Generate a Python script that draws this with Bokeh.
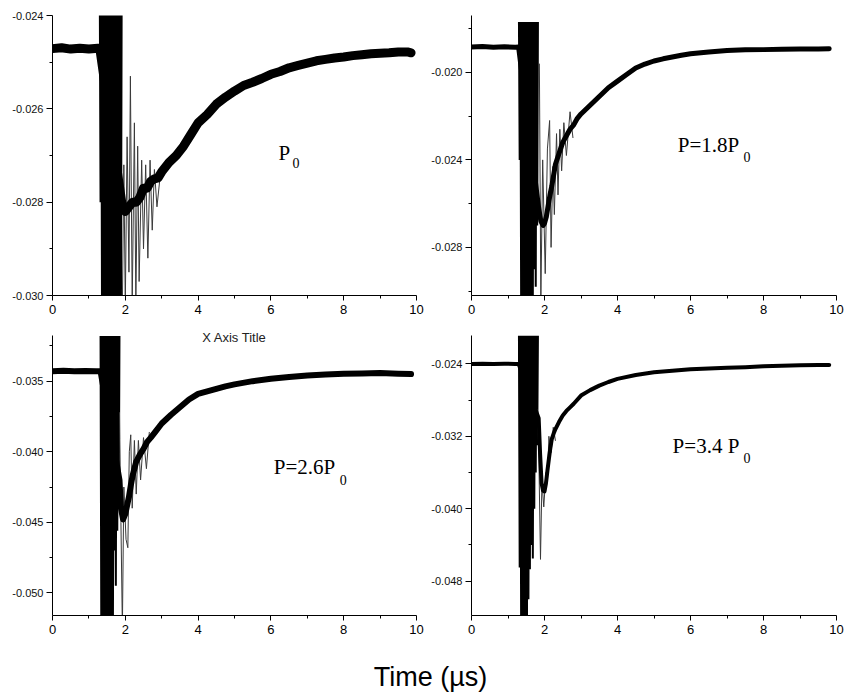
from bokeh.plotting import figure
from bokeh.layouts import column, row
from bokeh.models import FixedTicker, PrintfTickFormatter, Label, Range1d
from bokeh.core.properties import value
from bokeh.embed import file_html
from bokeh.resources import INLINE

# ---------------- data ----------------
# Panel 1 : P0
p1_t = [0.0, 0.25, 0.5, 0.75, 1.0, 1.25, 1.30,
        1.92, 2.0, 2.1, 2.2, 2.3, 2.4, 2.5, 2.6, 2.7, 2.8, 2.9, 3.0,
        3.2, 3.4, 3.6, 3.8, 4.0, 4.25, 4.5, 4.75, 5.0, 5.25, 5.5, 5.75, 6.0,
        6.25, 6.5, 6.75, 7.0, 7.25, 7.5, 7.75, 8.0, 8.25, 8.5, 8.75, 9.0,
        9.25, 9.5, 9.75, 9.85]
p1_v = [-0.02471, -0.02469, -0.02472, -0.02470, -0.02472, -0.02470, -0.02471,
        -0.02810, -0.02820, -0.02810, -0.02800, -0.02800, -0.02790, -0.02770, -0.02770, -0.02755, -0.02750, -0.02748, -0.02735,
        -0.02715, -0.02700, -0.02680, -0.02655, -0.02630, -0.02612, -0.02590, -0.02575, -0.02562, -0.02550, -0.02543, -0.02535, -0.02526,
        -0.02520, -0.02512, -0.02507, -0.02502, -0.02497, -0.02494, -0.02491, -0.02489, -0.02486, -0.02484, -0.02482, -0.02481,
        -0.02480, -0.02478, -0.02478, -0.02480]
p1_burst_t = [1.30, 1.32, 1.34, 1.36, 1.38, 1.40, 1.42, 1.44, 1.46, 1.48, 1.50, 1.52, 1.54, 1.56, 1.58, 1.60,
              1.62, 1.64, 1.66, 1.68, 1.70, 1.72, 1.74, 1.76, 1.78, 1.80, 1.82, 1.84, 1.86, 1.88, 1.90]
p1_burst_v = [-0.0237, -0.0280, -0.0237, -0.0303, -0.0237, -0.0303, -0.0237, -0.0303, -0.0237, -0.0303, -0.0237, -0.0303,
              -0.0237, -0.0303, -0.0237, -0.0303, -0.0237, -0.0303, -0.0237, -0.0303, -0.0237, -0.0303, -0.0237, -0.0303,
              -0.0237, -0.0303, -0.0237, -0.0303, -0.0237, -0.0303, -0.0237]
p1_spike_t = [1.92, 1.96, 2.00, 2.05, 2.10, 2.14, 2.19, 2.25, 2.29, 2.34, 2.38, 2.45, 2.50, 2.56, 2.62, 2.68, 2.74, 2.80, 2.87, 2.95]
p1_spike_v = [-0.0302, -0.0272, -0.0302, -0.0266, -0.0295, -0.0253, -0.0302, -0.0263, -0.0302, -0.0268, -0.0297,
              -0.0271, -0.0290, -0.0272, -0.0292, -0.0271, -0.0286, -0.0273, -0.0281, -0.0275]

# Panel 2 : P = 1.8 P0
p2_t = [0.0, 0.3, 0.6, 0.9, 1.2, 1.29,
        1.84, 1.90, 1.96, 2.00, 2.05, 2.10, 2.15, 2.20, 2.25, 2.30,
        2.40, 2.50, 2.60, 2.70, 2.80, 2.90, 3.00, 3.25, 3.50, 3.75, 4.00,
        4.25, 4.50, 4.75, 5.00, 5.25, 5.50, 5.75, 6.00, 6.50, 7.00, 7.50, 8.00,
        8.50, 9.00, 9.50, 9.80]
p2_v = [-0.01884, -0.01882, -0.01885, -0.01883, -0.01885, -0.01884,
        -0.02620, -0.02680, -0.02700, -0.02690, -0.02660, -0.02610, -0.02560, -0.02520, -0.02470, -0.02420,
        -0.02370, -0.02320, -0.02290, -0.02260, -0.02240, -0.02210, -0.02190, -0.02150, -0.02110, -0.02070, -0.02040,
        -0.02010, -0.01980, -0.01962, -0.01948, -0.01938, -0.01930, -0.01922, -0.01915, -0.01907, -0.01900, -0.01897, -0.01896,
        -0.01894, -0.01893, -0.01893, -0.01892]
p2_burst_t = [1.30, 1.32, 1.34, 1.36, 1.38, 1.40, 1.42, 1.44, 1.46, 1.48, 1.50, 1.52, 1.54, 1.56,
              1.58, 1.60, 1.62, 1.64, 1.66, 1.68, 1.70, 1.72, 1.74, 1.76, 1.78, 1.80, 1.82]
p2_burst_v = [-0.0177, -0.0240, -0.0177, -0.0305, -0.0177, -0.0305, -0.0177, -0.0305, -0.0177, -0.0305, -0.0177, -0.0305,
              -0.0177, -0.0305, -0.0177, -0.0305, -0.0177, -0.0305, -0.0177, -0.0305, -0.0177, -0.0290, -0.0177, -0.0298,
              -0.0177, -0.0270, -0.0177]
p2_spike_t = [1.86, 1.90, 1.95, 2.02, 2.08, 2.14, 2.18, 2.23, 2.27, 2.33, 2.37, 2.42, 2.47, 2.53, 2.60, 2.70, 2.78]
p2_spike_v = [-0.0196, -0.0305, -0.0240, -0.0292, -0.0235, -0.0222, -0.0280, -0.0243, -0.0265, -0.0228, -0.0256,
              -0.0226, -0.0245, -0.0223, -0.0238, -0.0218, -0.0230]

# Panel 3 : P = 2.6 P0
p3_t = [0.0, 0.3, 0.6, 0.9, 1.2, 1.32,
        1.84, 1.88, 1.94, 2.00, 2.05, 2.10, 2.15, 2.20,
        2.30, 2.40, 2.50, 2.60, 2.70, 2.85, 3.00,
        3.25, 3.50, 3.75, 4.00, 4.25, 4.50, 4.75, 5.00,
        5.50, 6.00, 6.50, 7.00, 7.50, 8.00, 8.50, 9.00, 9.50, 9.85]
p3_v = [-0.03429, -0.03427, -0.03430, -0.03428, -0.03430, -0.03429,
        -0.04200, -0.04400, -0.04480, -0.04440, -0.04380, -0.04320, -0.04240, -0.04170,
        -0.04070, -0.04020, -0.03980, -0.03930, -0.03900, -0.03850, -0.03800,
        -0.03740, -0.03685, -0.03630, -0.03590, -0.03572, -0.03554, -0.03537, -0.03523,
        -0.03500, -0.03483, -0.03470, -0.03460, -0.03453, -0.03448, -0.03445, -0.03443, -0.03447, -0.03450]
p3_burst_t = [1.32, 1.34, 1.36, 1.38, 1.40, 1.42, 1.44, 1.46, 1.48, 1.50, 1.52, 1.54, 1.56, 1.58,
              1.60, 1.62, 1.64, 1.66, 1.68, 1.70, 1.72, 1.74, 1.76, 1.78, 1.80, 1.82, 1.84]
p3_burst_v = [-0.0318, -0.0520, -0.0318, -0.0520, -0.0318, -0.0520, -0.0318, -0.0520, -0.0318, -0.0520, -0.0318, -0.0520,
              -0.0318, -0.0520, -0.0318, -0.0520, -0.0318, -0.0520, -0.0318, -0.0470, -0.0318, -0.0495, -0.0318, -0.0456,
              -0.0318, -0.0440, -0.0318]
p3_spike_t = [1.84, 1.88, 1.92, 1.96, 2.02, 2.07, 2.11, 2.15, 2.19, 2.25, 2.30, 2.36, 2.42, 2.50, 2.58, 2.66]
p3_spike_v = [-0.0372, -0.0450, -0.0525, -0.0425, -0.0462, -0.0468, -0.0400, -0.0388, -0.0440, -0.0392, -0.0430,
              -0.0392, -0.0420, -0.0390, -0.0412, -0.0386]

# Panel 4 : P = 3.4 P0
p4_t = [0.0, 0.3, 0.6, 0.9, 1.2, 1.29,
        1.84, 1.88, 1.92, 1.96, 2.00, 2.04, 2.08, 2.12, 2.16, 2.20,
        2.25, 2.30, 2.40, 2.50, 2.60, 2.70, 2.80,
        3.00, 3.25, 3.50, 3.75, 4.00, 4.50, 5.00, 5.50, 6.00,
        6.50, 7.00, 7.50, 8.00, 8.50, 9.00, 9.50, 9.80]
p4_v = [-0.02400, -0.02398, -0.02401, -0.02399, -0.02400, -0.02400,
        -0.03000, -0.03400, -0.03720, -0.03800, -0.03810, -0.03720, -0.03580, -0.03450, -0.03330, -0.03230,
        -0.03170, -0.03120, -0.03040, -0.02970, -0.02920, -0.02880, -0.02840,
        -0.02750, -0.02690, -0.02640, -0.02600, -0.02566, -0.02522, -0.02493, -0.02475, -0.02460,
        -0.02452, -0.02444, -0.02436, -0.02427, -0.02420, -0.02415, -0.02412, -0.02411]
p4_burst_t = [1.30, 1.32, 1.34, 1.36, 1.38, 1.40, 1.42, 1.44, 1.46, 1.48, 1.50, 1.52, 1.54, 1.56,
              1.58, 1.60, 1.62, 1.64, 1.66, 1.68, 1.70, 1.72, 1.74, 1.76, 1.78, 1.80, 1.82]
p4_burst_v = [-0.0209, -0.0465, -0.0209, -0.0530, -0.0209, -0.0530, -0.0209, -0.0530, -0.0209, -0.0530, -0.0209, -0.0530,
              -0.0209, -0.0500, -0.0209, -0.0467, -0.0209, -0.0440, -0.0209, -0.0455, -0.0209, -0.0400, -0.0209, -0.0360,
              -0.0209, -0.0330, -0.0209]
p4_spike_t = [1.80, 1.84, 1.89, 1.93, 1.98, 2.04, 2.08, 2.12, 2.18, 2.24, 2.30]
p4_spike_v = [-0.0290, -0.0330, -0.0456, -0.0370, -0.0398, -0.0360, -0.0370, -0.0320, -0.0338, -0.0310, -0.0325]

# axes
x_ticks = [0, 2, 4, 6, 8, 10]
x_minor = [1, 3, 5, 7, 9]
p1_yrange = (-0.0300, -0.0240)
p1_yaxis_top = -0.0240
p1_yticks = [-0.030, -0.028, -0.026, -0.024]
p1_yminor = [-0.029, -0.027, -0.025]
p2_yrange = (-0.0302, -0.0174)
p2_yaxis_top = -0.0174
p2_yticks = [-0.028, -0.024, -0.020]
p2_yminor = [-0.030, -0.026, -0.022, -0.018]
# lower row: the frame reaches a few pixels above the axis line so the stray title fits
p3_yrange = (-0.0516, -0.03127)
p3_yaxis_top = -0.0318
p3_yticks = [-0.050, -0.045, -0.040, -0.035]
p3_yminor = [-0.0475, -0.0425, -0.0375, -0.0325]
p4_yrange = (-0.0518, -0.02009)
p4_yaxis_top = -0.0209
p4_yticks = [-0.048, -0.040, -0.032, -0.024]
p4_yminor = [-0.044, -0.036, -0.028]

# annotations (vertical centre of the text): (main text, x, y, subscript, x, y)
p1_note = ("P", 6.21, -0.02694, "0", 6.59, -0.02717)
p2_note = ("P=1.8P", 5.65, -0.02334, "0", 7.45, -0.02387)
p3_note = ("P=2.6P", 6.08, -0.04109, "0", 7.89, -0.04199)
p4_note = ("P=3.4 P", 5.51, -0.03304, "0", 7.45, -0.03439)

SANS = "Liberation Sans"
SERIF = "Liberation Serif"


def panel(width, height, borders, yr, ytop, yticks, yminor, t, v, lw, bt, bv, st, sv, note):
    bl, br, btop, bb = borders
    p = figure(width=width, height=height, x_range=Range1d(0, 10), y_range=Range1d(*yr),
               output_backend="svg", toolbar_location=None,
               min_border_left=bl, min_border_right=br, min_border_top=btop, min_border_bottom=bb)
    p.outline_line_color = None
    p.grid.visible = False
    p.background_fill_color = "white"
    p.border_fill_color = "white"

    p.line(bt, bv, line_width=2, color="black")
    p.line(st, sv, line_width=1, color="#3a3a3a")
    p.line(t, v, line_width=lw, color="black", line_join="round", line_cap="round")

    xa = p.xaxis[0]
    xa.ticker = FixedTicker(ticks=x_ticks, minor_ticks=x_minor)
    xa.formatter = PrintfTickFormatter(format="%d")
    xa.major_label_text_font = SANS
    xa.major_label_text_font_size = "13px"
    xa.major_label_text_color = "black"
    xa.major_label_standoff = 4
    xa.major_tick_out = 5
    xa.major_tick_in = 0
    xa.minor_tick_out = 3
    xa.minor_tick_in = 0
    xa.axis_line_color = "black"
    xa.major_tick_line_color = "black"
    xa.minor_tick_line_color = "black"

    ya = p.yaxis[0]
    ya.bounds = (yr[0], ytop)
    ya.ticker = FixedTicker(ticks=yticks, minor_ticks=yminor)
    ya.formatter = PrintfTickFormatter(format="%.3f")
    ya.major_label_text_font = SANS
    ya.major_label_text_font_size = "11px"
    ya.major_label_text_color = "#111111"
    ya.major_label_standoff = 3
    ya.major_tick_out = 6
    ya.major_tick_in = 0
    ya.minor_tick_out = 3
    ya.minor_tick_in = 0
    ya.axis_line_color = "black"
    ya.major_tick_line_color = "black"
    ya.minor_tick_line_color = "black"

    main, mx, my, sub, sx, sy = note
    p.add_layout(Label(x=mx, y=my, text=main, text_font=SERIF, text_font_size="21px",
                       text_color="black", text_align="left", text_baseline="middle"))
    p.add_layout(Label(x=sx, y=sy, text=sub, text_font=SERIF, text_font_size="14px",
                       text_color="black", text_align="left", text_baseline="middle"))
    return p


# borders: left, right, top, bottom (pixels)
f1 = panel(428, 328, (52, 12, 15, 33), p1_yrange, p1_yaxis_top, p1_yticks, p1_yminor, p1_t, p1_v, 9,
           p1_burst_t, p1_burst_v, p1_spike_t, p1_spike_v, p1_note)
f2 = panel(418, 328, (42, 10, 15, 33), p2_yrange, p2_yaxis_top, p2_yticks, p2_yminor, p2_t, p2_v, 5,
           p2_burst_t, p2_burst_v, p2_spike_t, p2_spike_v, p2_note)
f3 = panel(428, 312, (52, 12, 0, 25), p3_yrange, p3_yaxis_top, p3_yticks, p3_yminor, p3_t, p3_v, 6,
           p3_burst_t, p3_burst_v, p3_spike_t, p3_spike_v, p3_note)
f4 = panel(418, 312, (42, 10, 0, 25), p4_yrange, p4_yaxis_top, p4_yticks, p4_yminor, p4_t, p4_v, 4,
           p4_burst_t, p4_burst_v, p4_spike_t, p4_spike_v, p4_note)

# stray Origin label left in the lower-left panel
f3.add_layout(Label(x=5.0, y=-0.03189, text="X Axis Title", text_font=SANS, text_font_size="13px",
                    text_color="#222222", text_align="center", text_baseline="middle"))

# common x-axis title
ft = figure(width=846, height=54, x_range=Range1d(0, 846), y_range=Range1d(0, 54),
            output_backend="svg", toolbar_location=None, x_axis_type=None, y_axis_type=None,
            min_border=0, min_border_left=0, min_border_right=0, min_border_top=0, min_border_bottom=0)
ft.outline_line_color = None
ft.grid.visible = False
ft.text(x=[430], y=[18], text=["Time (µs)"], text_font=value(SANS), text_font_size="27px",
        text_color="black", text_align="center", text_baseline="middle")

layout = column(row(f1, f2), row(f3, f4), ft)

open("out.html", "w").write(file_html(layout, INLINE))
